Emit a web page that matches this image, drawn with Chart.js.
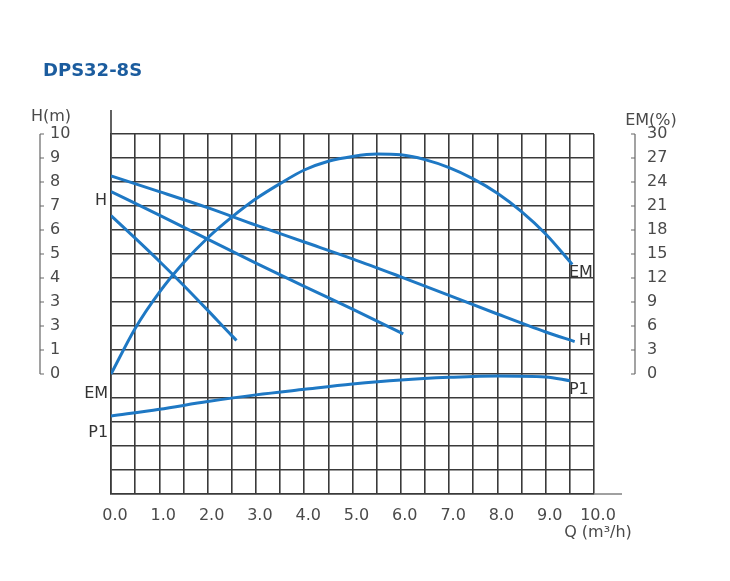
<!DOCTYPE html>
<html>
<head>
<meta charset="utf-8">
<style>
  body { margin: 0; background: #fff; }
  #wrap { position: relative; width: 730px; height: 581px; }
  #title { position: absolute; left: 43px; top: 61px; margin: 0; font: bold 18px/18px "DejaVu Sans"; color: #1b5c9e; }
  canvas { position: absolute; left: 0; top: 0; }
</style>
</head>
<body>
<div id="wrap">
  <canvas id="chart" width="730" height="581"></canvas>
  <div id="title">DPS32-8S</div>
</div>
<script src="https://cdn.jsdelivr.net/npm/chart.js@4.4.0/dist/chart.umd.min.js"></script>
<script>
// values (Q in m3/h, H in m, EM in %)
const emQ   = [0, 0.5, 1, 1.5, 2, 2.5, 3, 3.5, 4, 4.5, 5, 5.5, 6, 6.5, 7, 7.5, 8, 8.5, 9, 9.55];
const emVal = [0, 5.7, 10.2, 13.9, 17.0, 19.6, 21.9, 23.8, 25.5, 26.6, 27.2, 27.5, 27.4, 26.8, 25.8, 24.4, 22.6, 20.3, 17.5, 13.7];

const hTopQ = [0, 1, 2, 3, 4, 5, 6, 7, 8, 9, 9.6];
const hTop  = [8.25, 7.6, 6.93, 6.2, 5.5, 4.8, 4.05, 3.28, 2.5, 1.75, 1.35];

const hMidQ = [0, 1, 2, 3, 4, 5, 6.05];
const hMid  = [7.6, 6.62, 5.62, 4.62, 3.65, 2.7, 1.67];

const hLowQ = [0, 0.5, 1, 1.5, 2, 2.5, 2.6];
const hLow  = [6.6, 5.66, 4.7, 3.7, 2.66, 1.6, 1.4];

const p1Q   = [0, 1, 2, 3, 4, 5, 6, 7, 8, 9, 9.5];
const p1Val = [-1.75, -1.47, -1.15, -0.87, -0.64, -0.42, -0.25, -0.14, -0.08, -0.12, -0.28];

// left axis labels as printed (the sheet shows "3" where 2 would be)
const hTickLabels = ['0', '1', '3', '3', '4', '5', '6', '7', '8', '9', '10'];

// curve names, placed in chart units (q, h)
const curveLabels = [
  {text: 'H',  q: -0.08, h: 7.2,   align: 'right'},
  {text: 'EM', q: -0.06, h: -0.83, align: 'right'},
  {text: 'P1', q: -0.06, h: -2.46, align: 'right'},
  {text: 'EM', q: 9.48,  h: 4.2,   align: 'left'},
  {text: 'H',  q: 9.69,  h: 1.37,  align: 'left'},
  {text: 'P1', q: 9.48,  h: -0.67, align: 'left'}
];

const curveColor = '#1e78c4';
const gridColor = '#3a3a3a';
const textColor = '#4a4a4a';
const font = 'DejaVu Sans';

function curve(q, v, axis) {
  return {
    data: q.map((x, i) => ({x: x, y: v[i]})),
    yAxisID: axis,
    showLine: true,
    borderColor: curveColor,
    borderWidth: 3,
    pointRadius: 0,
    cubicInterpolationMode: 'monotone',
    fill: false
  };
}

const decor = {
  id: 'decor',
  afterDraw(chart) {
    const ctx = chart.ctx;
    const a = chart.chartArea;
    const x = chart.scales.x, y = chart.scales.y, y2 = chart.scales.y2;
    ctx.save();
    // bracket axes beside the tick labels
    ctx.strokeStyle = '#666';
    ctx.lineWidth = 1.2;
    ctx.beginPath();
    ctx.moveTo(40, y.getPixelForValue(10));
    ctx.lineTo(40, y.getPixelForValue(0));
    for (let v = 0; v <= 10; v++) {
      ctx.moveTo(40, y.getPixelForValue(v));
      ctx.lineTo(44, y.getPixelForValue(v));
    }
    ctx.moveTo(635, y2.getPixelForValue(30));
    ctx.lineTo(635, y2.getPixelForValue(0));
    for (let v = 0; v <= 30; v += 3) {
      ctx.moveTo(635, y2.getPixelForValue(v));
      ctx.lineTo(631, y2.getPixelForValue(v));
    }
    ctx.stroke();
    // axis line stubs
    ctx.strokeStyle = gridColor;
    ctx.lineWidth = 1.6;
    ctx.beginPath();
    ctx.moveTo(a.left, a.top - 24);
    ctx.lineTo(a.left, a.top);
    ctx.stroke();
    ctx.strokeStyle = '#888';
    ctx.beginPath();
    ctx.moveTo(a.right, a.bottom);
    ctx.lineTo(a.right + 28, a.bottom);
    ctx.stroke();
    // texts
    ctx.fillStyle = '#333';
    ctx.font = '16px "' + font + '"';
    ctx.textBaseline = 'middle';
    curveLabels.forEach(l => {
      ctx.textAlign = l.align;
      ctx.fillText(l.text, x.getPixelForValue(l.q), y.getPixelForValue(l.h));
    });
    ctx.fillStyle = textColor;
    ctx.textAlign = 'center';
    ctx.fillText('H(m)', 51, 117);
    ctx.fillText('EM(%)', 651, 121);
    ctx.fillText('Q (m\u00B3/h)', 598, 533);
    ctx.restore();
  }
};

new Chart(document.getElementById('chart'), {
  type: 'scatter',
  data: {
    datasets: [
      curve(emQ, emVal, 'y2'),
      curve(hTopQ, hTop, 'y'),
      curve(hMidQ, hMid, 'y'),
      curve(hLowQ, hLow, 'y'),
      curve(p1Q, p1Val, 'y')
    ]
  },
  plugins: [decor],
  options: {
    responsive: false,
    animation: false,
    layout: {padding: {left: 50, top: 134, right: 0, bottom: 0}},
    plugins: {legend: {display: false}, tooltip: {enabled: false}},
    scales: {
      x: {
        type: 'linear', min: 0, max: 10,
        grid: {color: gridColor, lineWidth: 1.6, drawTicks: false},
        border: {color: gridColor, width: 1.6},
        ticks: {
          stepSize: 0.5, autoSkip: false, maxRotation: 0, padding: 12, labelOffset: 4,
          color: textColor, font: {family: font, size: 16},
          callback: v => Number.isInteger(v) ? v.toFixed(1) : ''
        },
        afterFit: s => { s.height = 87; }
      },
      y: {
        position: 'left', min: -5, max: 10,
        grid: {color: gridColor, lineWidth: 1.6, drawTicks: false},
        border: {color: gridColor, width: 1.6},
        ticks: {
          stepSize: 1, crossAlign: 'far', color: textColor, font: {family: font, size: 16},
          callback: v => v >= 0 ? hTickLabels[v] : ''
        },
        afterFit: s => { s.width = 61; }
      },
      y2: {
        position: 'right', min: -15, max: 30,
        grid: {display: false, drawTicks: false},
        border: {display: false},
        ticks: {
          stepSize: 3, padding: 53, color: textColor, font: {family: font, size: 16},
          callback: v => v >= 0 ? String(v) : ''
        },
        afterFit: s => { s.width = 136; }
      }
    }
  }
});
</script>
</body>
</html>
